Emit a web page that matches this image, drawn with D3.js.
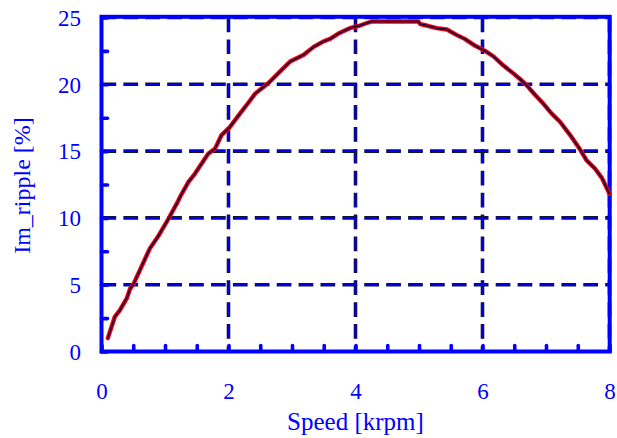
<!DOCTYPE html>
<html>
<head>
<meta charset="utf-8">
<script src="https://cdn.jsdelivr.net/npm/d3@7"></script>
<style>
  html, body { margin: 0; padding: 0; background: #fff; }
  svg { display: block; }
  text { font-family: "Liberation Serif", "Times New Roman", serif; fill: #0000ff; }
</style>
</head>
<body>
<svg id="chart" width="617" height="438"></svg>
<script>
// Measured current ripple vs. motor speed
const speed = [0.10, 0.21, 0.29, 0.40, 0.45, 0.50, 0.76, 0.89, 1.05, 1.20, 1.24, 1.37, 1.47, 1.68,
  1.79, 1.89, 2.02, 2.18, 2.31, 2.42, 2.55, 2.63, 2.84, 2.97, 3.18, 3.34, 3.49, 3.60, 3.73, 3.91,
  4.07, 4.25, 4.99, 5.02, 5.12, 5.28, 5.44, 5.59, 5.72, 5.88, 6.04, 6.17, 6.33, 6.49, 6.59, 6.70,
  6.83, 6.93, 7.09, 7.22, 7.38, 7.54, 7.64, 7.77, 7.88, 8.00];
const ripple = [1.0, 2.6, 3.1, 4.0, 4.7, 5.0, 7.7, 8.6, 9.9, 11.2, 11.6, 12.7, 13.3, 14.8,
  15.2, 16.2, 16.8, 17.8, 18.6, 19.3, 19.8, 20.1, 21.1, 21.7, 22.2, 22.8, 23.2, 23.4, 23.8, 24.2,
  24.4, 24.7, 24.7, 24.5, 24.4, 24.2, 24.1, 23.7, 23.4, 22.9, 22.5, 22.1, 21.4, 20.8, 20.4, 19.9,
  19.2, 18.7, 17.8, 17.2, 16.2, 15.1, 14.3, 13.7, 13.0, 11.8];

const xMajor = [0, 2, 4, 6, 8];
const yMajor = [0, 5, 10, 15, 20, 25];
const xMinor = [0, 0.5, 1, 1.5, 2, 2.5, 3, 3.5, 4, 4.5, 5, 5.5, 6, 6.5, 7, 7.5, 8];
const yMinor = [0, 2.5, 5, 7.5, 10, 12.5, 15, 17.5, 20, 22.5, 25];
const xTitle = "Speed [krpm]";
const yTitle = "Im_ripple [%]";

const plotLeft = 101.5, plotRight = 609.5, plotTop = 17.5, plotBottom = 351.5;
const blue = "#0000ff";

const svg = d3.select("#chart");
const x = d3.scaleLinear().domain([0, 8]).range([plotLeft, plotRight]);
const y = d3.scaleLinear().domain([0, 25]).range([plotBottom, plotTop]);

// dashed grid: dark outline with a blue core
const grid = svg.append("g");
function gridLine(g, x1, y1, x2, y2) {
  g.append("line").attr("x1", x1).attr("y1", y1).attr("x2", x2).attr("y2", y2)
    .attr("stroke", "#14142a").attr("stroke-width", 3.6).attr("stroke-dasharray", "14.7,7.2");
  g.append("line").attr("x1", x1).attr("y1", y1).attr("x2", x2).attr("y2", y2)
    .attr("stroke", "#0000e6").attr("stroke-width", 2)
    .attr("stroke-dasharray", "13.7,8.2").attr("stroke-dashoffset", -0.5);
}
xMajor.filter(d => d > 0).forEach(d => gridLine(grid, x(d), y(25), x(d), y(0)));
yMajor.filter(d => d > 0).forEach(d => gridLine(grid, x(0), y(d), x(8), y(d)));

// axes with inward ticks
const xAxis = d3.axisBottom(x).tickValues(xMinor).tickSize(-6).tickSizeOuter(0)
  .tickFormat(d => xMajor.includes(d) ? d3.format("d")(d) : "");
const yAxis = d3.axisLeft(y).tickValues(yMinor).tickSize(-6).tickSizeOuter(0)
  .tickFormat(d => yMajor.includes(d) ? d3.format("d")(d) : "");

const gx = svg.append("g").attr("transform", `translate(0,${plotBottom})`).call(xAxis);
const gy = svg.append("g").attr("transform", `translate(${plotLeft},0)`).call(yAxis);

[gx, gy].forEach(g => {
  g.select(".domain").remove();
  g.selectAll(".tick line").attr("stroke", blue).attr("stroke-width", 3.6)
    .attr("stroke-linecap", "round");
  g.selectAll(".tick text").attr("fill", blue).style("font-size", "23px")
    .style("font-family", "'Liberation Serif', serif");
});
gx.selectAll(".tick text").attr("y", 0).attr("dy", 47.5);
gy.selectAll(".tick text").attr("x", -20.5).attr("dy", 7.7);

// frame
svg.append("rect")
  .attr("x", x(0)).attr("y", y(25) - 0.7)
  .attr("width", x(8) - x(0) + 0.2).attr("height", y(0) - y(25) + 0.7)
  .attr("fill", "none").attr("stroke", blue).attr("stroke-width", 4);

// ripple curve: red halo under a dark core
const line = d3.line().x((d, i) => x(speed[i])).y(d => y(d));
svg.append("path").datum(ripple).attr("d", line)
  .attr("fill", "none").attr("stroke", "#ff0000").attr("stroke-width", 4.4)
  .attr("stroke-linejoin", "round").attr("stroke-linecap", "round");
svg.append("path").datum(ripple).attr("d", line)
  .attr("fill", "none").attr("stroke", "#1a0848").attr("stroke-width", 1.9)
  .attr("stroke-linejoin", "round").attr("stroke-linecap", "round");

// axis titles
svg.append("text").attr("x", 355.5).attr("y", 429.5).attr("text-anchor", "middle")
  .style("font-size", "25px").text(xTitle);
svg.append("text").attr("transform", "translate(29.5,185.5) rotate(-90)")
  .attr("text-anchor", "middle").style("font-size", "24px").text(yTitle);
</script>
</body>
</html>
